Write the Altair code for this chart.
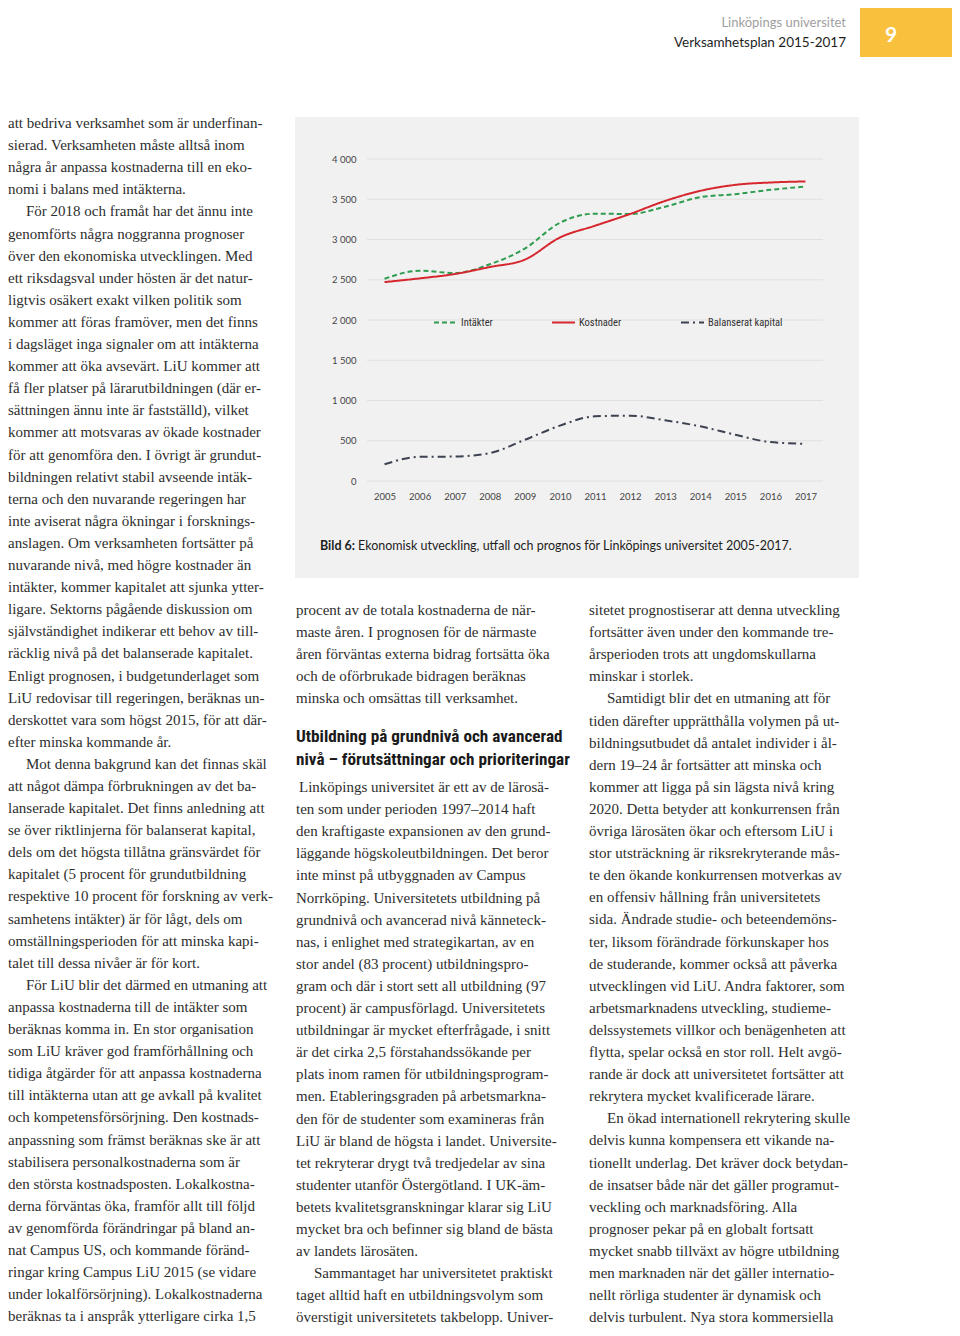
import altair as alt
import pandas as pd

# ---------------- chart data ----------------
years = [str(y) for y in range(2005, 2018)]
intakter = [2512, 2612, 2583, 2692, 2888, 3208, 3321, 3317, 3408, 3525, 3563, 3617, 3658]
kostnader = [2471, 2517, 2571, 2658, 2750, 3025, 3171, 3317, 3479, 3604, 3679, 3708, 3721]
balanserat = [208, 300, 304, 346, 512, 688, 804, 812, 754, 679, 575, 483, 462]
series_names = ["Intäkter", "Kostnader", "Balanserat kapital"]
series_colors = ["#2f9d50", "#d6262e", "#3c4250"]
series_dash = [[5, 3], [1, 0], [8, 4, 2, 4]]
y_ticks = [0, 500, 1000, 1500, 2000, 2500, 3000, 3500, 4000]

# ---------------- page text ----------------
header_top = "Linköpings universitet"
header_bottom = "Verksamhetsplan 2015-2017"
page_number = "9"
caption_bold = "Bild 6:"
caption_text = "Ekonomisk utveckling, utfall och prognos för Linköpings universitet 2005-2017."

IND = "\u200b\u2003\u2009"
left_lines = [
    "att bedriva verksamhet som är underfinan-",
    "sierad. Verksamheten måste alltså inom",
    "några år anpassa kostnaderna till en eko-",
    "nomi i balans med intäkterna.",
    IND + "För 2018 och framåt har det ännu inte",
    "genomförts några noggranna prognoser",
    "över den ekonomiska utvecklingen. Med",
    "ett riksdagsval under hösten är det natur-",
    "ligtvis osäkert exakt vilken politik som",
    "kommer att föras framöver, men det finns",
    "i dagsläget inga signaler om att intäkterna",
    "kommer att öka avsevärt. LiU kommer att",
    "få fler platser på lärarutbildningen (där er-",
    "sättningen ännu inte är fastställd), vilket",
    "kommer att motsvaras av ökade kostnader",
    "för att genomföra den. I övrigt är grundut-",
    "bildningen relativt stabil avseende intäk-",
    "terna och den nuvarande regeringen har",
    "inte aviserat några ökningar i forsknings-",
    "anslagen. Om verksamheten fortsätter på",
    "nuvarande nivå, med högre kostnader än",
    "intäkter, kommer kapitalet att sjunka ytter-",
    "ligare. Sektorns pågående diskussion om",
    "självständighet indikerar ett behov av till-",
    "räcklig nivå på det balanserade kapitalet.",
    "Enligt prognosen, i budgetunderlaget som",
    "LiU redovisar till regeringen, beräknas un-",
    "derskottet vara som högst 2015, för att där-",
    "efter minska kommande år.",
    IND + "Mot denna bakgrund kan det finnas skäl",
    "att något dämpa förbrukningen av det ba-",
    "lanserade kapitalet. Det finns anledning att",
    "se över riktlinjerna för balanserat kapital,",
    "dels om det högsta tillåtna gränsvärdet för",
    "kapitalet (5 procent för grundutbildning",
    "respektive 10 procent för forskning av verk-",
    "samhetens intäkter) är för lågt, dels om",
    "omställningsperioden för att minska kapi-",
    "talet till dessa nivåer är för kort.",
    IND + "För LiU blir det därmed en utmaning att",
    "anpassa kostnaderna till de intäkter som",
    "beräknas komma in. En stor organisation",
    "som LiU kräver god framförhållning och",
    "tidiga åtgärder för att anpassa kostnaderna",
    "till intäkterna utan att ge avkall på kvalitet",
    "och kompetensförsörjning. Den kostnads-",
    "anpassning som främst beräknas ske är att",
    "stabilisera personalkostnaderna som är",
    "den största kostnadsposten. Lokalkostna-",
    "derna förväntas öka, framför allt till följd",
    "av genomförda förändringar på bland an-",
    "nat Campus US, och kommande föränd-",
    "ringar kring Campus LiU 2015 (se vidare",
    "under lokalförsörjning). Lokalkostnaderna",
    "beräknas ta i anspråk ytterligare cirka 1,5",
]
mid_lines_a = [
    "procent av de totala kostnaderna de när-",
    "maste åren. I prognosen för de närmaste",
    "åren förväntas externa bidrag fortsätta öka",
    "och de oförbrukade bidragen beräknas",
    "minska och omsättas till verksamhet.",
]
heading_lines = [
    "Utbildning på grundnivå och avancerad",
    "nivå – förutsättningar och prioriteringar",
]
mid_lines_b = [
    "\u200b\u2009Linköpings universitet är ett av de lärosä-",
    "ten som under perioden 1997–2014 haft",
    "den kraftigaste expansionen av den grund-",
    "läggande högskoleutbildningen. Det beror",
    "inte minst på utbyggnaden av Campus",
    "Norrköping. Universitetets utbildning på",
    "grundnivå och avancerad nivå känneteck-",
    "nas, i enlighet med strategikartan, av en",
    "stor andel (83 procent) utbildningspro-",
    "gram och där i stort sett all utbildning (97",
    "procent) är campusförlagd. Universitetets",
    "utbildningar är mycket efterfrågade, i snitt",
    "är det cirka 2,5 förstahandssökande per",
    "plats inom ramen för utbildningsprogram-",
    "men. Etableringsgraden på arbetsmarkna-",
    "den för de studenter som examineras från",
    "LiU är bland de högsta i landet. Universite-",
    "tet rekryterar drygt två tredjedelar av sina",
    "studenter utanför Östergötland. I UK-äm-",
    "betets kvalitetsgranskningar klarar sig LiU",
    "mycket bra och befinner sig bland de bästa",
    "av landets lärosäten.",
    IND + "Sammantaget har universitetet praktiskt",
    "taget alltid haft en utbildningsvolym som",
    "överstigit universitetets takbelopp. Univer-",
]
right_lines = [
    "sitetet prognostiserar att denna utveckling",
    "fortsätter även under den kommande tre-",
    "årsperioden trots att ungdomskullarna",
    "minskar i storlek.",
    IND + "Samtidigt blir det en utmaning att för",
    "tiden därefter upprätthålla volymen på ut-",
    "bildningsutbudet då antalet individer i ål-",
    "dern 19–24 år fortsätter att minska och",
    "kommer att ligga på sin lägsta nivå kring",
    "2020. Detta betyder att konkurrensen från",
    "övriga lärosäten ökar och eftersom LiU i",
    "stor utsträckning är riksrekryterande mås-",
    "te den ökande konkurrensen motverkas av",
    "en offensiv hållning från universitetets",
    "sida. Ändrade studie- och beteendemöns-",
    "ter, liksom förändrade förkunskaper hos",
    "de studerande, kommer också att påverka",
    "utvecklingen vid LiU. Andra faktorer, som",
    "arbetsmarknadens utveckling, studieme-",
    "delssystemets villkor och benägenheten att",
    "flytta, spelar också en stor roll. Helt avgö-",
    "rande är dock att universitetet fortsätter att",
    "rekrytera mycket kvalificerade lärare.",
    IND + "En ökad internationell rekrytering skulle",
    "delvis kunna kompensera ett vikande na-",
    "tionellt underlag. Det kräver dock betydan-",
    "de insatser både när det gäller programut-",
    "veckling och marknadsföring. Alla",
    "prognoser pekar på en globalt fortsatt",
    "mycket snabb tillväxt av högre utbildning",
    "men marknaden när det gäller internatio-",
    "nellt rörliga studenter är dynamisk och",
    "delvis turbulent. Nya stora kommersiella",
]

# ---------------- build tables ----------------
rows = []
for name, vals in zip(series_names, [intakter, kostnader, balanserat]):
    for yr, v in zip(years, vals):
        rows.append({"year": yr, "value": v, "serie": name})
lines_df = pd.DataFrame(rows)
grid_df = pd.DataFrame({"value": y_ticks})

SERIF = "Liberation Serif"
SANS = "Lato"
NARROW = "Roboto Condensed, DejaVu Sans Condensed, Liberation Sans Narrow, Roboto, sans-serif"
BODY = "#2e2e2e"
LH = 22.1

x_scale = alt.Scale(type="point", domain=years, range=[359, 815], padding=0.5)
y_scale = alt.Scale(domain=[0, 4000], range=[473, 151], nice=False, zero=False)
x_axis = alt.Axis(title=None, orient="bottom", offset=-832, domain=False, ticks=False,
                  tickSize=0, labelPadding=0, labelBaseline="middle", grid=False, zindex=2,
                  labelFont=SANS, labelFontSize=9.5, labelColor="#444444", labelAngle=0)
y_axis = alt.Axis(title=None, orient="left", offset=-348, domain=False, ticks=False,
                  tickSize=0, labelPadding=0, grid=False, values=y_ticks, zindex=2,
                  labelExpr="replace(format(datum.value, ','), ',', ' ')",
                  labelFont=SANS, labelFontSize=9.5, labelColor="#444444")


def one(**kw):
    return pd.DataFrame({k: [v] for k, v in kw.items()})


def text_block(lines, x, y, size=15, font=SERIF, color=BODY, weight="normal", lh=LH, align="left"):
    return alt.Chart(one(t="\n".join(lines))).mark_text(
        align=align, baseline="alphabetic", font=font, fontSize=size, fontWeight=weight,
        color=color, lineBreak="\n", lineHeight=lh,
    ).encode(text="t:N", x=alt.value(x), y=alt.value(y))


panel = alt.Chart(one(k=0)).mark_rect(color="#f1f1f1").encode(
    x=alt.value(287), x2=alt.value(851), y=alt.value(109), y2=alt.value(570))
yellow = alt.Chart(one(k=0)).mark_rect(color="#f9c03e").encode(
    x=alt.value(852), x2=alt.value(944), y=alt.value(0), y2=alt.value(49))

grid = alt.Chart(grid_df).mark_rule(color="#e0e0e0", strokeWidth=1).encode(
    y=alt.Y("value:Q", scale=y_scale, axis=y_axis),
    x=alt.value(359), x2=alt.value(815))

legend = alt.Legend(orient="none", legendX=425, legendY=302, direction="horizontal",
                    title=None, symbolType="stroke", symbolSize=529,
                    symbolStrokeWidth=2, labelFont=NARROW, labelFontSize=10.5,
                    labelColor="#333333", columnPadding=55, labelOffset=3, padding=0)

lines = alt.Chart(lines_df).mark_line(strokeWidth=2, interpolate="monotone").encode(
    x=alt.X("year:O", scale=x_scale, axis=x_axis),
    y=alt.Y("value:Q", scale=y_scale, axis=y_axis),
    color=alt.Color("serie:N", scale=alt.Scale(domain=series_names, range=series_colors),
                    legend=legend),
    strokeDash=alt.StrokeDash("serie:N", scale=alt.Scale(domain=series_names, range=series_dash),
                              legend=legend),
)

h1 = alt.Chart(one(t=header_top)).mark_text(align="right", baseline="alphabetic", font=SANS,
                                           fontSize=13, color="#a0a0a0").encode(
    text="t:N", x=alt.value(838), y=alt.value(19))
h2 = alt.Chart(one(t=header_bottom)).mark_text(align="right", baseline="alphabetic", font=SANS,
                                              fontSize=13.5, color="#1e1e1e").encode(
    text="t:N", x=alt.value(838), y=alt.value(39))
pn = alt.Chart(one(t=page_number)).mark_text(align="center", baseline="middle", font=SANS,
                                            fontSize=21, fontWeight="bold", color="white").encode(
    text="t:N", x=alt.value(883), y=alt.value(28))
cap1 = alt.Chart(one(t=caption_bold)).mark_text(align="left", baseline="middle", font=SANS,
                                               fontSize=12.5, fontWeight="bold", color="#1e1e1e").encode(
    text="t:N", x=alt.value(312), y=alt.value(538))
cap2 = alt.Chart(one(t=caption_text)).mark_text(align="left", baseline="middle", font=SANS,
                                               fontSize=12.5, color="#1e1e1e").encode(
    text="t:N", x=alt.value(350), y=alt.value(538))

left_txt = text_block(left_lines, 0, 120)
mid_a = text_block(mid_lines_a, 288, 607)
heading = text_block(heading_lines, 288, 734, size=17.2, font=NARROW, color="#1a1a1a",
                     weight="bold", lh=23)
mid_b = text_block(mid_lines_b, 288, 784)
right_txt = text_block(right_lines, 581, 607)

chart = alt.layer(
    panel, yellow, grid, lines, h1, h2, pn, cap1, cap2,
    left_txt, mid_a, heading, mid_b, right_txt,
).properties(
    width=944, height=1320, padding=0,
    autosize=alt.AutoSizeParams(type="none"),
    background="white",
).configure_view(strokeWidth=0)

chart.save("out.html", embed_options={"renderer": "svg", "actions": False})
